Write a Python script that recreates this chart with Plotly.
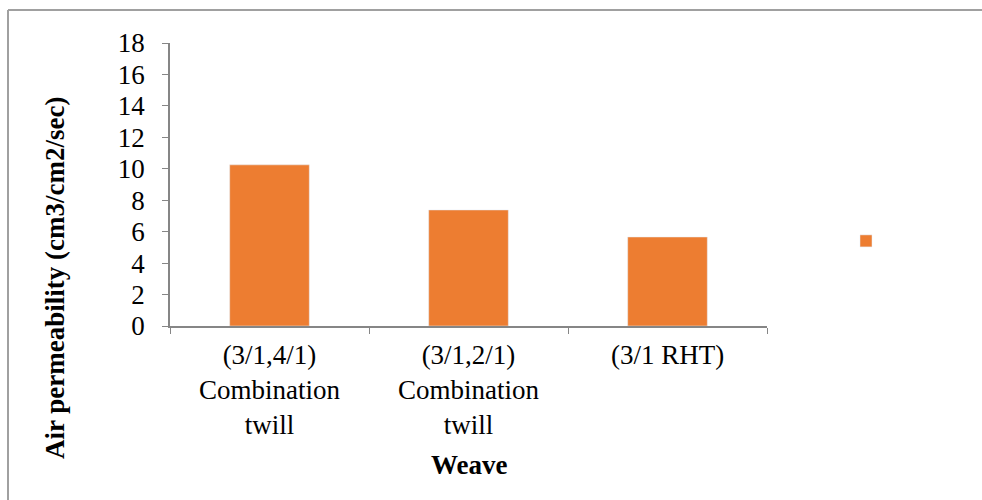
import plotly.graph_objects as go

categories = ["(3/1,4/1)<br>Combination<br>twill", "(3/1,2/1)<br>Combination<br>twill", "(3/1 RHT)"]
values = [10.25, 7.38, 5.66]
y_ticks = [0, 2, 4, 6, 8, 10, 12, 14, 16, 18]

W, H = 982, 500
L, R, T, B = 170, 215, 43, 174
pw, ph = W - L - R, H - T - B

def px_x(x):
    return (x - L) / pw

def px_y(y):
    return (H - B - y) / ph

fig = go.Figure()
fig.add_trace(go.Bar(x=categories, y=values, name=" ", marker_color="#ED7D31",
                     width=0.4, showlegend=True))

font_family = "Liberation Serif"
axis_color = "#868686"

fig.update_layout(
    width=W, height=H,
    margin=dict(l=L, r=R, t=T, b=B, autoexpand=False),
    paper_bgcolor="white", plot_bgcolor="white",
    font=dict(family=font_family, color="black", size=27),
    showlegend=True,
    legend=dict(x=px_x(846), y=px_y(241), xanchor="left", yanchor="middle",
                font=dict(size=16), bgcolor="rgba(0,0,0,0)", itemwidth=30),
    bargap=0.6,
    xaxis=dict(
        type="category", showline=True, linecolor=axis_color, linewidth=1.5,
        ticks="outside", tickson="boundaries", ticklen=6, tickcolor=axis_color,
        tickfont=dict(size=27, family=font_family), ticklabelstandoff=4,
        showgrid=False,
    ),
    yaxis=dict(
        range=[0, 18], tickvals=y_ticks, showline=True, linecolor=axis_color, linewidth=1.5,
        ticks="outside", ticklen=6, tickcolor=axis_color,
        tickfont=dict(size=27, family=font_family), ticklabelstandoff=12,
        showgrid=False, zeroline=False,
    ),
)

fig.add_annotation(text="<b>Air permeability (cm3/cm2/sec)</b>", xref="paper", yref="paper",
                   x=px_x(55), y=px_y(278), textangle=-90, showarrow=False,
                   font=dict(size=27, family=font_family), xanchor="center", yanchor="middle")
fig.add_annotation(text="<b>Weave</b>", xref="paper", yref="paper",
                   x=0.5, y=px_y(465), showarrow=False,
                   font=dict(size=27, family=font_family), xanchor="center", yanchor="middle")

# frame lines (top and left border of the surrounding box)
fig.add_shape(type="line", xref="paper", yref="paper",
              x0=px_x(8), x1=px_x(W), y0=px_y(10), y1=px_y(10),
              line=dict(color="#A0A0A0", width=2))
fig.add_shape(type="line", xref="paper", yref="paper",
              x0=px_x(8), x1=px_x(8), y0=px_y(10), y1=px_y(H),
              line=dict(color="#A0A0A0", width=2))

fig.write_html("out.html")
